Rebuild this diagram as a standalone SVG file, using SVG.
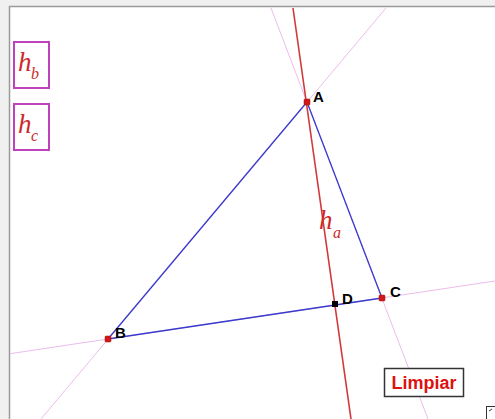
<svg xmlns="http://www.w3.org/2000/svg" width="495" height="419" viewBox="0 0 495 419">
<style>
.ext{stroke:#ecbcec;stroke-width:1;fill:none}
.side{stroke:#3a3acc;stroke-width:1.3;fill:none}
.alt{stroke:#d03a3a;stroke-width:1.6;fill:none}
.lbl{font-family:"Liberation Sans",Arial,sans-serif;font-weight:bold;font-size:15px;fill:#000}
.h{font-family:"Liberation Serif","Times New Roman",serif;font-style:italic;fill:#cc2a2a}
.btn{fill:#fff;stroke:#c040c0;stroke-width:2}
.pt{fill:#d01818;stroke:#a01010;stroke-width:0.5}
</style>
<rect x="0" y="0" width="495" height="419" fill="#f0f0f0"/>
<rect x="10" y="7" width="485" height="412" fill="#fff"/>
<line x1="9" y1="6.5" x2="495" y2="6.5" stroke="#9a9a9a" stroke-width="1.5"/>
<line x1="9.5" y1="6" x2="9.5" y2="419" stroke="#9a9a9a" stroke-width="1.5"/>
<g id="connectors">
  <line class="ext" x1="386" y1="8" x2="41" y2="419"/>
  <line class="ext" x1="271" y1="8" x2="428" y2="419"/>
  <line class="ext" x1="10" y1="353.7" x2="495" y2="281"/>
  <line class="side" x1="307" y1="102" x2="108" y2="339"/>
  <line class="side" x1="307" y1="102" x2="382" y2="298"/>
  <line class="side" x1="108" y1="339" x2="382" y2="298"/>
  <line class="alt" x1="293" y1="8" x2="351" y2="419"/>
</g>
<g id="label-ha">
  <text class="h" x="319" y="229" font-size="27">h</text>
  <text class="h" x="333" y="238" font-size="16">a</text>
</g>
<g id="A">
  <rect class="pt" x="304" y="99" width="6" height="6" rx="1"/>
  <text class="lbl" x="313" y="102">A</text>
</g>
<g id="B">
  <rect class="pt" x="105" y="336" width="6" height="6" rx="1"/>
  <text class="lbl" x="115" y="338">B</text>
</g>
<g id="C">
  <rect class="pt" x="379" y="295" width="6" height="6" rx="1"/>
  <text class="lbl" x="390" y="297">C</text>
</g>
<g id="D">
  <rect x="332" y="301" width="6" height="6" fill="#000"/>
  <text class="lbl" x="342" y="304">D</text>
</g>
<g id="btn-hb">
  <rect class="btn" x="14" y="42" width="35" height="46"/>
  <text class="h" x="18" y="71" font-size="27">h</text>
  <text class="h" x="31" y="79" font-size="16">b</text>
</g>
<g id="btn-hc">
  <rect class="btn" x="14" y="104" width="35" height="46"/>
  <text class="h" x="18" y="133" font-size="27">h</text>
  <text class="h" x="31" y="141" font-size="16">c</text>
</g>
<g id="btn-limpiar">
  <rect x="384.5" y="368.5" width="79" height="28" fill="#fff" stroke="#333" stroke-width="1.5"/>
  <text x="424" y="389" text-anchor="middle" font-family="'Liberation Sans',Arial,sans-serif" font-weight="bold" font-size="18" fill="#dd1111">Limpiar</text>
</g>
<g id="corner">
  <rect x="486.5" y="406.5" width="10" height="14" fill="#fff" stroke="#333" stroke-width="1"/>
  <line x1="489" y1="411" x2="492" y2="409" stroke="#333" stroke-width="1"/>
</g>
</svg>
